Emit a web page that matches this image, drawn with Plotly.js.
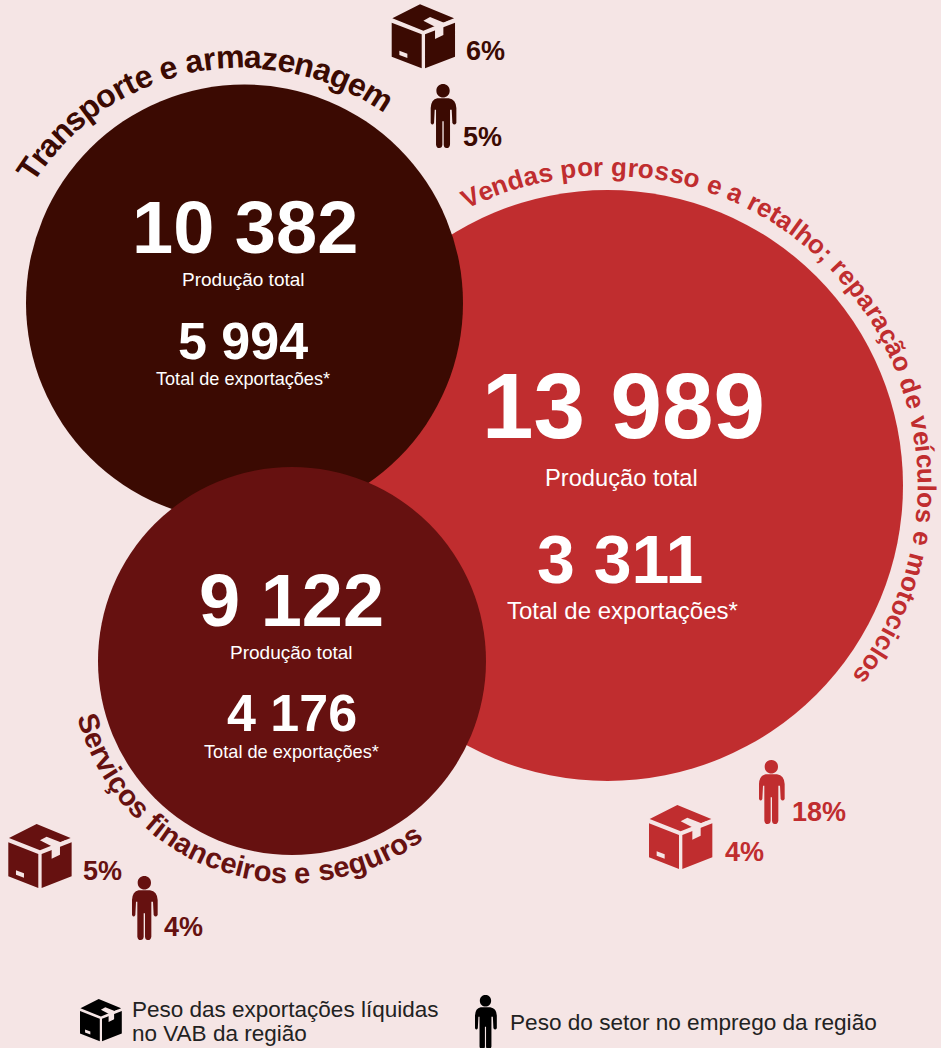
<!DOCTYPE html>
<html><head><meta charset="utf-8">
<script src="https://cdn.plot.ly/plotly-3.0.1.min.js"></script>
<style>html,body{margin:0;padding:0;background:#f5e5e5}#chart{width:941px;height:1048px}</style>
</head><body><div id="chart"></div>
<script>
// ---- data ----
const sectors = ["Vendas por grosso e a retalho; reparação de veículos e motociclos","Transporte e armazenagem","Serviços financeiros e seguros"];
const totalOutput = [13989, 10382, 9122];
const totalExports = [3311, 5994, 4176];
const exportShare = [4, 6, 5];
const employmentShare = [18, 5, 4];
const outputLabel = "Produção total";
const exportLabel = "Total de exportações*";
const legendExports = ["Peso das exportações líquidas","no VAB da região"];
const legendEmployment = "Peso do setor no emprego da região";

// ---- layout settings ----
const FONT = '"Liberation Sans", Arial, sans-serif';
const BG = '#f5e5e5';
const colors = ['#c02d2f','#3b0a02','#661110'];
const view = [
 {cx:607.5,cy:485.5,r:295.5, num:[623,405.5,92.5], lab:[621,477.5,23.7], num2:[620,559,68], lab2:[622,610,24],
  arc:{cx:607.5,cy:485.5,R:319,a0:-27,a1:128,fs:26,dir:1},
  box:[649,805,1], person:[759,760,1], boxPct:[744,852], perPct:[819,812]},
 {cx:244.5,cy:303,r:218.5, num:[244.5,227,74], lab:[243,279,19], num2:[243,341,52], lab2:[243,378.5,18.1],
  arc:{cx:241.5,cy:313,R:256,a0:-58,a1:35.4,fs:32,dir:1},
  box:[391.7,4.3,1], person:[430.7,84,1], boxPct:[485,51], perPct:[482,137]},
 {cx:292,cy:661,r:194, num:[291,600,74], lab:[291.5,652,19], num2:[291.5,713,52], lab2:[291.5,751.5,18.2],
  arc:{cx:292,cy:661,R:212,a0:255.5,a1:143.5,fs:29,dir:-1},
  box:[8.3,824,1], person:[132,876,1], boxPct:[102,871], perPct:[183,927]}
];

const fmt = n => { const s=String(n); return s.slice(0,-3)+' '+s.slice(-3); };
const ctx = document.createElement('canvas').getContext('2d');

function ann(text,x,y,size,color,bold,extra){
  return Object.assign({text:bold?'<b>'+text+'</b>':text,x,y,xref:'x',yref:'y',showarrow:false,
    xanchor:'center',yanchor:'middle',font:{family:FONT,size,color}},extra||{});
}
function arcText(text,a,color){
  ctx.font='bold '+a.fs+'px "Liberation Sans", Arial, sans-serif';
  const total=ctx.measureText(text).width, out=[];
  for(let i=0;i<text.length;i++){
    if(text[i]===' ')continue;
    const p=text.slice(0,i);
    const mid=(ctx.measureText(p).width+ctx.measureText(p+text[i]).width)/2;
    const th=a.a0+(a.a1-a.a0)*mid/total, rad=th*Math.PI/180;
    out.push(ann(text[i],a.cx+a.R*Math.sin(rad),a.cy-a.R*Math.cos(rad),a.fs,color,true,
      {textangle:a.dir>0?th:th-180}));
  }
  return out;
}
// Icon outlines in a local unit box
function pathAt(cmds,ox,oy,bx,by,s){
  return cmds.map(c=>{
    const out=[c[0]];
    for(let i=1;i<c.length;i+=2) out.push((ox+(c[i]-bx)/3*s).toFixed(2)+','+(oy+(c[i+1]-by)/3*s).toFixed(2));
    return out[0]+out.slice(1).join(' ');
  }).join(' ');
}
const boxBody=[['M',37,55],['L',120,13],['L',222,55],['L',130,92],['Z'],
 ['M',35,68],['L',125,103],['L',125,205],['L',35,170],['Z'],
 ['M',135,103],['L',225,68],['L',225,170],['L',135,205],['Z']];
const boxCut=[['M',130,62],['L',150,51],['L',192,68],['L',206,62],['L',212,65],['L',190,75],['L',190,105],['L',165,117],['L',165,80],['Z'],
 ['M',58,152],['L',82,161],['L',82,174],['L',58,165],['Z']];
const personPath=[['M',172,296],['L',206,296],['Q',228,300,229,325],['L',229,370],['Q',223,379,217,370],['L',215,330],['L',210,330],
 ['L',210,435],['Q',208,446,199,445],['Q',192,445,191,435],['L',191,365],['L',187,365],['L',187,435],['Q',186,445,178,445],['Q',170,446,168,435],
 ['L',168,330],['L',164,330],['L',162,370],['Q',157,379,152,370],['L',152,325],['Q',153,300,172,296],['Z'],
 ['M',169,273],['C',169,246,209,246,209,273],['C',209,300,169,300,169,273],['Z']];
function boxIcon(x,y,s,color,shapes){
  shapes.push({type:'path',path:pathAt(boxBody,x,y,35,13,s),fillcolor:color,line:{width:0},layer:'above'});
  shapes.push({type:'path',path:pathAt(boxCut,x,y,35,13,s),fillcolor:BG,line:{width:0},layer:'above'});
}
function personIcon(x,y,s,color,shapes){
  shapes.push({type:'path',path:pathAt(personPath,x,y,152,253,s),fillcolor:color,line:{width:0},layer:'above'});
}

const traces=[], annotations=[], shapes=[];
sectors.forEach((name,i)=>{
  const v=view[i], col=colors[i];
  traces.push({type:'scatter',mode:'markers',x:[v.cx],y:[v.cy],name,cliponaxis:false,hoverinfo:'name',
    marker:{size:[2*v.r],color:col,opacity:1,line:{width:0}}});
  annotations.push(ann(fmt(totalOutput[i]),v.num[0],v.num[1],v.num[2],'#fff',true));
  annotations.push(ann(outputLabel,v.lab[0],v.lab[1],v.lab[2],'#fff',false));
  annotations.push(ann(fmt(totalExports[i]),v.num2[0],v.num2[1],v.num2[2],'#fff',true));
  annotations.push(ann(exportLabel,v.lab2[0],v.lab2[1],v.lab2[2],'#fff',false));
  annotations.push(...arcText(name,v.arc,col));
  annotations.push(ann(exportShare[i]+'%',v.boxPct[0],v.boxPct[1],27,col,true));
  annotations.push(ann(employmentShare[i]+'%',v.perPct[0],v.perPct[1],27,col,true));
  boxIcon(v.box[0],v.box[1],v.box[2],col,shapes);
  personIcon(v.person[0],v.person[1],v.person[2],col,shapes);
});
// legend
boxIcon(80,999,0.66,'#000',shapes);
personIcon(475,995,0.85,'#000',shapes);
annotations.push(ann(legendExports[0],130,1009,22.5,'#222',false,{xanchor:'left'}));
annotations.push(ann(legendExports[1],130,1033,22.5,'#222',false,{xanchor:'left'}));
annotations.push(ann(legendEmployment,508,1022,22.6,'#222',false,{xanchor:'left'}));

const layout={width:941,height:1048,margin:{l:0,r:0,t:0,b:0},paper_bgcolor:BG,plot_bgcolor:BG,showlegend:false,
  xaxis:{range:[0,941],visible:false,fixedrange:true},
  yaxis:{range:[1048,0],visible:false,fixedrange:true},
  annotations,shapes,hovermode:'closest'};
Plotly.newPlot('chart',traces,layout,{displayModeBar:false,responsive:false});
</script></body></html>
